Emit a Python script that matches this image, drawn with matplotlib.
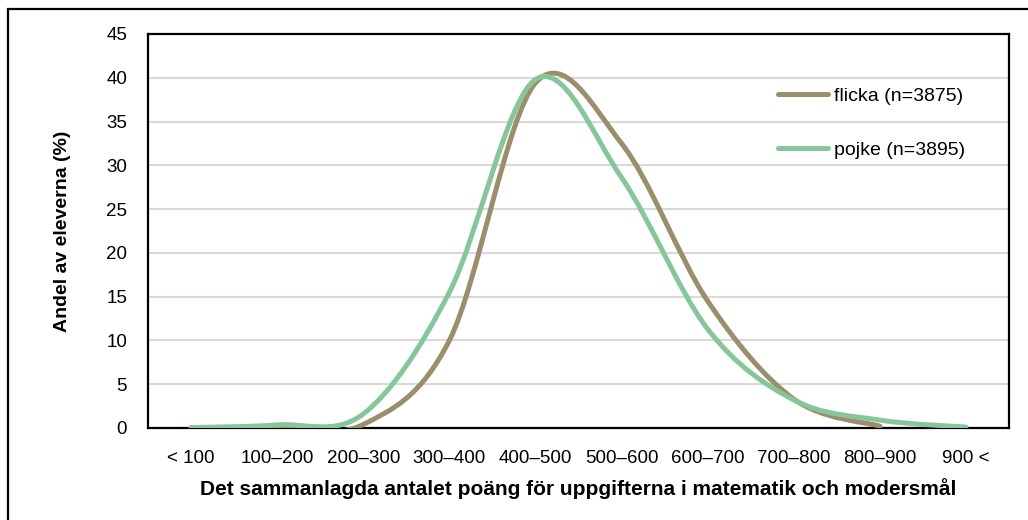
import numpy as np
import matplotlib
matplotlib.use('Agg')
import matplotlib.pyplot as plt
from matplotlib.path import Path
from matplotlib.patches import PathPatch, Rectangle
from matplotlib.lines import Line2D

# data (percent of students per score band)
categories = ['< 100', '100–200', '200–300', '300–400', '400–500',
              '500–600', '600–700', '700–800', '800–900', '900 <']
flicka = [0.0, 0.1, 0.4, 10.0, 39.4, 32.5, 14.5, 3.3, 0.2, np.nan]
pojke = [0.05, 0.35, 1.6, 15.5, 39.8, 28.6, 11.3, 3.2, 0.9, 0.1]

brown = '#9b8e6c'
green = '#85c79b'

plt.rcParams['font.family'] = ['Liberation Sans', 'DejaVu Sans']
plt.rcParams['font.size'] = 12


def smooth_path(xs, ys):
    # Excel-style smoothed line: cubic bezier segments through every point
    pts = np.array([(x, y) for x, y in zip(xs, ys) if not np.isnan(y)], dtype=float)
    n = len(pts)
    verts = [tuple(pts[0])]
    codes = [Path.MOVETO]
    for i in range(n - 1):
        p0 = pts[i - 1] if i > 0 else pts[i]
        p1 = pts[i]
        p2 = pts[i + 1]
        p3 = pts[i + 2] if i + 2 < n else pts[i + 1]
        c1 = p1 + (p2 - p0) / 6.0
        c2 = p2 - (p3 - p1) / 6.0
        verts += [tuple(c1), tuple(c2), tuple(p2)]
        codes += [Path.CURVE4] * 3
    return Path(verts, codes)


fig = plt.figure(figsize=(10.28, 5.2), dpi=100)
ax = fig.add_axes([0.144, 0.177, 0.8375, 0.7577])

x = np.arange(len(categories))
for vals, col, z in [(flicka, brown, 3), (pojke, green, 4)]:
    patch = PathPatch(smooth_path(x, vals), facecolor='none', edgecolor=col,
                      lw=3.6, capstyle='round', joinstyle='round', zorder=z)
    ax.add_patch(patch)

ax.set_xlim(-0.5, len(categories) - 0.5)
ax.set_ylim(0, 45)
ax.set_yticks(np.arange(0, 46, 5))
ax.set_xticks(x)
ax.set_xticklabels(categories)
ax.tick_params(axis='both', length=0, labelsize=13.5)
ax.tick_params(axis='x', pad=16)
ax.tick_params(axis='y', pad=15)
ax.yaxis.grid(True, color='#d9d9d9', lw=1.5)
ax.set_axisbelow(True)
for s in ax.spines.values():
    s.set_linewidth(1.6)
    s.set_color('black')

ax.set_ylabel('Andel av eleverna (%)', fontsize=14, fontweight='bold', labelpad=25)
ax.set_xlabel('Det sammanlagda antalet poäng för uppgifterna i matematik och modersmål',
              fontsize=15, fontweight='bold', labelpad=8)

handles = [Line2D([], [], color=brown, lw=3.6, solid_capstyle='round'),
           Line2D([], [], color=green, lw=3.6, solid_capstyle='round')]
ax.legend(handles, ['flicka (n=3875)', 'pojke (n=3895)'], loc='upper left',
          bbox_to_anchor=(0.711, 0.909), frameon=False, handlelength=2.6,
          handletextpad=0.3, labelspacing=1.85, fontsize=14)

# outer chart border (only left/top visible in the crop)
fig.patches.append(Rectangle((8 / 1028, -0.1), 1.2, (520 - 9) / 520 + 0.1,
                             transform=fig.transFigure, fill=False,
                             edgecolor='black', lw=1.6))

fig.savefig('out.png', dpi=100)
